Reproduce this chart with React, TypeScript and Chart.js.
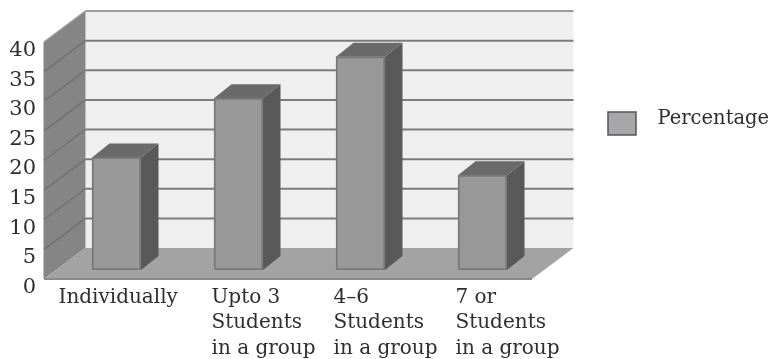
import React, { useEffect, useRef } from "react";
import { Chart, registerables } from "chart.js";

Chart.register(...registerables);

const categories = [
  ["Individually"],
  ["Upto 3", "Students", "in a group"],
  ["4–6", "Students", "in a group"],
  ["7 or", "Students", "in a group"],
];
const percentage = [19, 29, 36, 16];
const seriesName = "Percentage";
const yMax = 40;
const yStep = 5;

// Projection offsets of the box faces, relative to the plane the bar fronts stand on.
const FRONT = { dx: -11.5, dy: 9 };
const BACK = { dx: 30, dy: -22 };
const BAR_DEPTH = { dx: 17.5, dy: -14 };

const TEXT = "#2e2e2e";
const FONT = "'DejaVu Serif', serif";

function poly(ctx: CanvasRenderingContext2D, pts: number[][], fill: string) {
  ctx.beginPath();
  pts.forEach(([x, y], i) => (i ? ctx.lineTo(x, y) : ctx.moveTo(x, y)));
  ctx.closePath();
  ctx.fillStyle = fill;
  ctx.fill();
}

function segment(ctx: CanvasRenderingContext2D, x0: number, y0: number, x1: number, y1: number, color: string, width = 2) {
  ctx.beginPath();
  ctx.moveTo(x0, y0);
  ctx.lineTo(x1, y1);
  ctx.strokeStyle = color;
  ctx.lineWidth = width;
  ctx.stroke();
}

// Back wall, side wall, floor and the depth faces of every bar.
const boxPlugin = {
  id: "box3d",
  beforeDatasetsDraw(chart: any) {
    const { ctx, chartArea: a, scales } = chart;
    const y = scales.y;
    const yZero = y.getPixelForValue(0);
    const yTop = y.getPixelForValue(yMax);
    ctx.save();

    poly(ctx, [
      [a.left + BACK.dx, yTop + BACK.dy],
      [a.right + BACK.dx, yTop + BACK.dy],
      [a.right + BACK.dx, yZero + BACK.dy],
      [a.left + BACK.dx, yZero + BACK.dy],
    ], "#efefef");

    poly(ctx, [
      [a.left + FRONT.dx, yTop + FRONT.dy],
      [a.left + BACK.dx, yTop + BACK.dy],
      [a.left + BACK.dx, yZero + BACK.dy],
      [a.left + FRONT.dx, yZero + FRONT.dy],
    ], "#858585");

    y.ticks.forEach((t: any) => {
      if (t.value === 0) return;
      const py = y.getPixelForValue(t.value);
      const top = t.value === yMax;
      segment(ctx, a.left + BACK.dx, py + BACK.dy, a.right + BACK.dx, py + BACK.dy, top ? "#9a9a9a" : "#7c7c7c");
      segment(ctx, a.left + FRONT.dx, py + FRONT.dy, a.left + BACK.dx, py + BACK.dy, top ? "#9a9a9a" : "#717171", 1.5);
    });

    poly(ctx, [
      [a.left + FRONT.dx, yZero + FRONT.dy],
      [a.right + FRONT.dx, yZero + FRONT.dy],
      [a.right + BACK.dx, yZero + BACK.dy],
      [a.left + BACK.dx, yZero + BACK.dy],
    ], "#a3a3a3");
    segment(ctx, a.left + FRONT.dx, yZero + FRONT.dy, a.right + FRONT.dx, yZero + FRONT.dy, "#8a8a8a");
    segment(ctx, a.left + FRONT.dx, yZero + FRONT.dy, a.left + FRONT.dx, yTop + FRONT.dy, "#858585", 1);

    chart.getDatasetMeta(0).data.forEach((bar: any) => {
      const l = bar.x - bar.width / 2;
      const r = bar.x + bar.width / 2;
      poly(ctx, [
        [r, bar.y],
        [r + BAR_DEPTH.dx, bar.y + BAR_DEPTH.dy],
        [r + BAR_DEPTH.dx, bar.base + BAR_DEPTH.dy],
        [r, bar.base],
      ], "#595959");
      poly(ctx, [
        [l, bar.y],
        [l + BAR_DEPTH.dx, bar.y + BAR_DEPTH.dy],
        [r + BAR_DEPTH.dx, bar.y + BAR_DEPTH.dy],
        [r, bar.y],
      ], "#6a6a6a");
    });
    ctx.restore();
  },
};

// The single-line category sits further left than the three-line ones.
const labelPlugin = {
  id: "labelShift",
  beforeDraw(chart: any) {
    const items = chart.scales.x.getLabelItems();
    if (items[0] && !items[0].shifted) {
      items[0].options.translation[0] -= 31;
      items[0].shifted = true;
    }
  },
};

// Series key to the right of the box, with its text set above the swatch's middle.
const keyPlugin = {
  id: "seriesKey",
  afterDraw(chart: any) {
    const { ctx } = chart;
    ctx.save();
    ctx.fillStyle = "#a7a7aa";
    ctx.strokeStyle = "#555555";
    ctx.lineWidth = 1.5;
    ctx.fillRect(608, 112, 28, 23);
    ctx.strokeRect(608, 112, 28, 23);
    ctx.fillStyle = TEXT;
    ctx.font = `19.5px ${FONT}`;
    ctx.textAlign = "left";
    ctx.textBaseline = "middle";
    ctx.fillText(chart.data.datasets[0].label, 657.5, 119);
    ctx.restore();
  },
};

export default function App() {
  const ref = useRef<HTMLCanvasElement>(null);

  useEffect(() => {
    const chart = new Chart(ref.current!, {
      type: "bar",
      data: {
        labels: categories,
        datasets: [
          {
            label: seriesName,
            data: percentage,
            backgroundColor: "#999999",
            borderColor: "#797979",
            borderWidth: 2,
            borderSkipped: false,
            barThickness: 49,
          },
        ],
      },
      options: {
        responsive: false,
        animation: false,
        layout: { padding: { top: 33, right: 226.5, left: 0, bottom: 0 } },
        plugins: { legend: { display: false }, tooltip: { enabled: false }, title: { display: false } },
        scales: {
          x: {
            grid: { display: false, drawTicks: false },
            border: { display: false },
            afterFit: (s: any) => { s.height = 89; },
            ticks: {
              align: "start",
              labelOffset: -27,
              padding: 15,
              maxRotation: 0,
              autoSkip: false,
              color: TEXT,
              font: { family: FONT, size: 20, lineHeight: 1.27 },
            },
          },
          y: {
            min: 0,
            max: yMax,
            grid: { display: false, drawTicks: false },
            border: { display: false },
            afterFit: (s: any) => { s.width = 55.5; },
            ticks: {
              stepSize: yStep,
              padding: 19.5,
              labelOffset: 17.5,
              color: TEXT,
              font: { family: FONT, size: 21 },
            },
          },
        },
      },
      plugins: [boxPlugin, labelPlugin, keyPlugin],
    } as any);
    return () => chart.destroy();
  }, []);

  return (
    <div style={{ position: "absolute", left: 0, top: 0, width: 770, height: 359 }}>
      <canvas ref={ref} width={770} height={359} style={{ display: "block" }} />
    </div>
  );
}
